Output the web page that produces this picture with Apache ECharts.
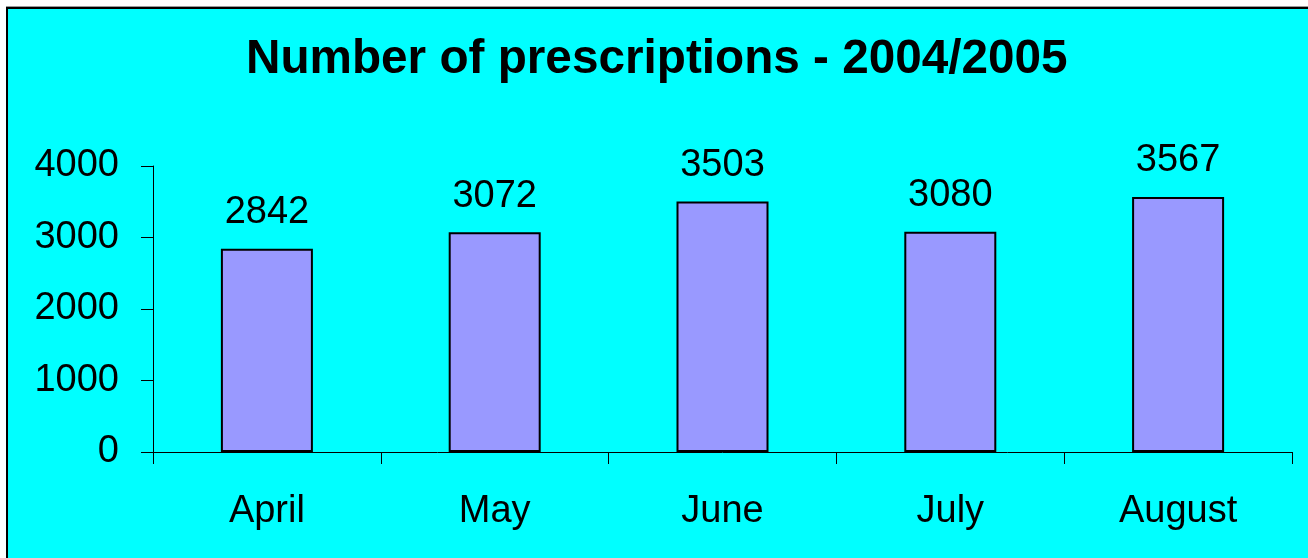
<!DOCTYPE html>
<html>
<head>
<meta charset="utf-8">
<script src="https://cdn.jsdelivr.net/npm/echarts@6/dist/echarts.min.js"></script>
<style>
  html, body { margin: 0; padding: 0; background: #fff; }
  .frame {
    position: absolute;
    left: 6px;
    top: 7px;
    width: 1320px;
    height: 570px;
    background: #00ffff;
    border-left: 2px solid #000;
    border-top: 2px solid #000;
    box-shadow: 0 -1px 0 #999;
  }
  #chart {
    position: absolute;
    left: 0;
    top: 0;
    width: 1308px;
    height: 558px;
  }
</style>
</head>
<body>
<div class="frame"></div>
<div id="chart"></div>
<script>
const months = ['April', 'May', 'June', 'July', 'August']
const prescriptions = [2842, 3072, 3503, 3080, 3567]
const yTicks = [0, 1000, 2000, 3000, 4000]

const fontFamily = '"Liberation Sans", Arial, Helvetica, sans-serif'

const chart = echarts.init(document.getElementById('chart'), null, { renderer: 'canvas' })

chart.setOption({
  animation: false,
  backgroundColor: 'transparent',
  title: {
    text: 'Number of prescriptions - 2004/2005',
    left: 241,
    top: 31,
    textStyle: {
      fontFamily,
      fontSize: 47.7,
      fontWeight: 'bold',
      color: '#000'
    }
  },
  grid: {
    left: 153,
    right: 16,
    top: 166,
    bottom: 106,
    containLabel: false
  },
  xAxis: {
    type: 'category',
    data: months,
    axisLine: { lineStyle: { color: '#000', width: 1 } },
    axisTick: {
      show: true,
      length: 12,
      lineStyle: { color: '#000', width: 1 }
    },
    axisLabel: {
      fontFamily,
      fontSize: 38,
      color: '#000',
      margin: 41
    },
    splitLine: { show: false }
  },
  yAxis: {
    type: 'value',
    min: yTicks[0],
    max: yTicks[yTicks.length - 1],
    interval: 1000,
    axisLine: { show: true, lineStyle: { color: '#000', width: 1 } },
    axisTick: {
      show: true,
      length: 12,
      lineStyle: { color: '#000', width: 1 }
    },
    axisLabel: {
      fontFamily,
      fontSize: 38,
      color: '#000',
      margin: 34,
      padding: [5, 0, 0, 0],
      formatter: (v) => String(v)
    },
    splitLine: { show: false }
  },
  series: [
    {
      type: 'bar',
      data: prescriptions,
      barWidth: 92,
      itemStyle: {
        color: '#9999ff',
        borderColor: '#000',
        borderWidth: 2
      },
      label: {
        show: true,
        position: 'top',
        distance: 17,
        fontFamily,
        fontSize: 38,
        color: '#000'
      }
    }
  ]
})
</script>
</body>
</html>
